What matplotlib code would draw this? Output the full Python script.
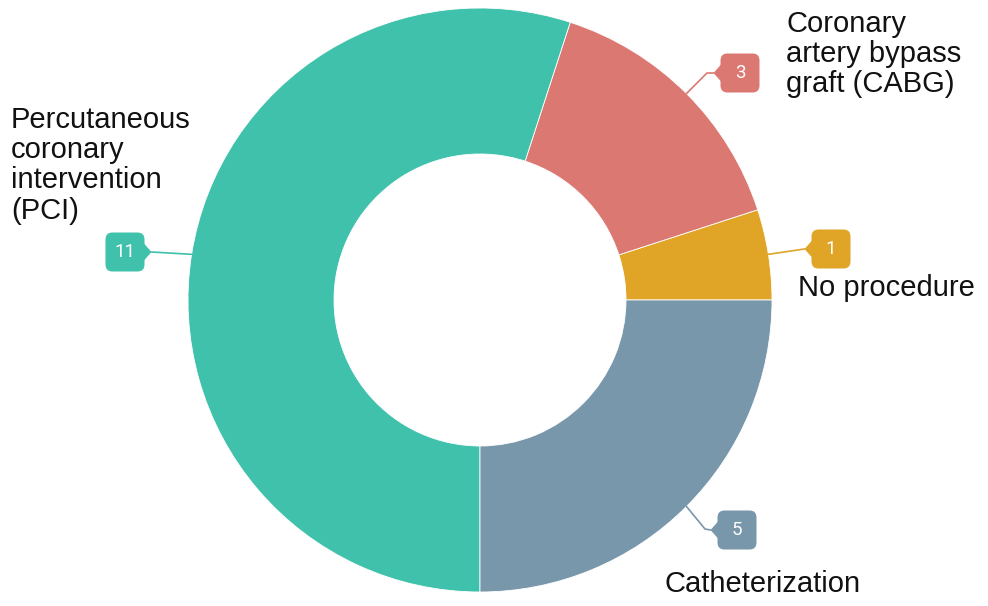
import numpy as np
import matplotlib.pyplot as plt
from matplotlib.patches import FancyBboxPatch, Polygon

# data
procedures = ["No procedure", "Coronary\nartery bypass\ngraft (CABG)",
              "Percutaneous\ncoronary\nintervention\n(PCI)", "Catheterization"]
counts = [1, 3, 11, 5]
colors = ["#e0a526", "#dc7872", "#3fc1ab", "#7897ab"]

W, H = 988, 606
fig = plt.figure(figsize=(W / 100, H / 100), dpi=100)
ax = fig.add_axes([0, 0, 1, 1])

cx, cy, R, r_in = 480, H - 300, 292, 146
wedges, _ = ax.pie(counts, colors=colors, startangle=0, counterclock=True,
                   center=(cx, cy), radius=R, frame=True,
                   wedgeprops=dict(width=R - r_in, edgecolor="white", linewidth=0.6))
ax.set_xlim(0, W)
ax.set_ylim(0, H)
ax.axis("off")

# callout layout: (elbow point, box center, pointer side), in pixel coords (y down)
callouts = [
    (None, (831, 249), "left"),
    ((707, 73), (740, 73), "left"),
    (None, (125, 252), "right"),
    ((705, 529), (737, 530), "left"),
]
label_pos = [(798, 288, "center"), (786, 10, "top"),
             (11, 106, "top"), (664, 584, "center")]

bw, bh = 39, 39
for w, n, col, (elbow, (bx, by), side), lab, (lx, ly, va) in zip(
        wedges, counts, colors, callouts, procedures, label_pos):
    mid = np.deg2rad((w.theta1 + w.theta2) / 2)
    ax0 = cx + R * np.cos(mid)
    ay0 = cy + R * np.sin(mid)
    by_d = H - by
    sgn = -1 if side == "left" else 1
    edge = bx + sgn * bw / 2
    tipx = edge + sgn * 7
    pts = [(ax0, ay0)]
    if elbow is not None:
        pts.append((elbow[0], H - elbow[1]))
    pts.append((tipx, by_d))
    xs, ys = zip(*pts)
    ax.plot(xs, ys, color=col, lw=1.2, solid_capstyle="round", zorder=3)
    box = FancyBboxPatch((bx - bw / 2 + 7, by_d - bh / 2 + 7), bw - 14, bh - 14,
                         boxstyle="round,pad=7", fc=col, ec="none", zorder=4)
    ax.add_patch(box)
    ax.add_patch(Polygon([(edge - sgn * 1, by_d + 9), (tipx, by_d), (edge - sgn * 1, by_d - 9)],
                         closed=True, fc=col, ec="none", zorder=4))
    ax.text(bx, by_d, str(n), color="white", fontsize=13.5, ha="center", va="center",
            family="Roboto", zorder=5)
    ax.text(lx, H - ly, lab, fontsize=21, ha="left", va=va, family="Liberation Sans",
            color="#111111", linespacing=1.1)

fig.savefig("out.png", dpi=100)
